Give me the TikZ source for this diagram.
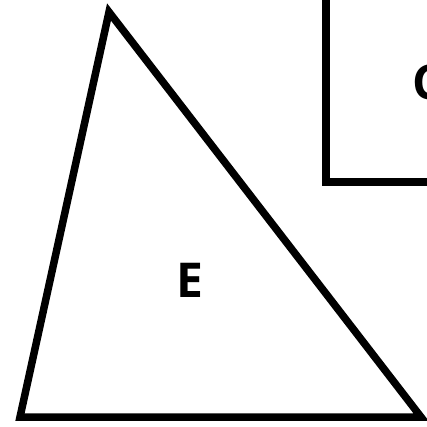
\documentclass[tikz,border=0pt]{standalone}
\usepackage{fontspec}
\setmainfont{Open Sans}
\tikzset{
  shape line/.style={draw=black, line width=7.5pt, miter limit=10, line join=miter},
  lbl/.style={font=\fontsize{48}{48}\selectfont\bfseries, inner sep=0pt}
}
\begin{document}
\begin{tikzpicture}[x=1pt,y=-1pt]
\useasboundingbox (0,0) rectangle (427,427);
\clip (0,0) rectangle (427,427);
\fill[white] (0,0) rectangle (427,427);
% triangle E
\coordinate (t1) at (109,12);
\coordinate (t2) at (20,417);
\coordinate (t3) at (421,417);
\draw[shape line] (t1) -- (t2) -- (t3) -- cycle;
\node[lbl] (E) at (190,280) {E};
% rectangle C
\draw[shape line] (326,-18) rectangle (528,182);
\node[lbl] (C) at (428,82) {C};
\end{tikzpicture}
\end{document}
